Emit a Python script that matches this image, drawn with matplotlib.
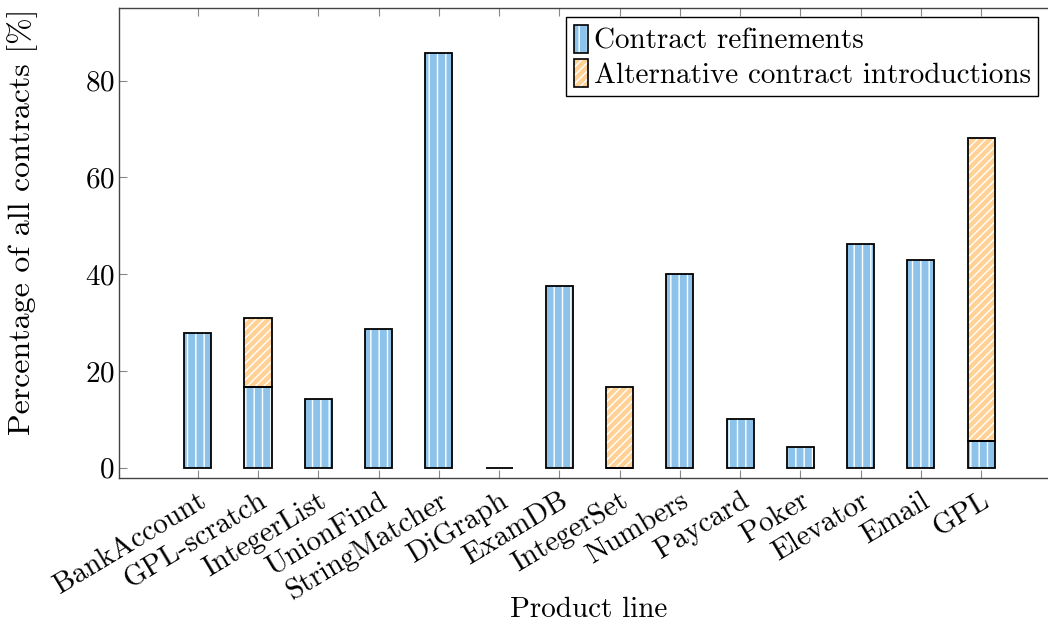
import matplotlib.pyplot as plt
import numpy as np

plt.rcParams['font.family'] = 'cmr10'
plt.rcParams['mathtext.fontset'] = 'cm'
plt.rcParams['axes.formatter.use_mathtext'] = True
plt.rcParams['hatch.linewidth'] = 1.0

# -------------------------------------------------
# Data
# -------------------------------------------------
products = ["BankAccount", "GPL-scratch", "IntegerList", "UnionFind",
            "StringMatcher", "DiGraph", "ExamDB", "IntegerSet", "Numbers",
            "Paycard", "Poker", "Elevator", "Email", "GPL"]
refinements = [27.8, 16.7, 14.3, 28.6, 85.7, 0.0, 37.5, 0.0, 40.0,
               10.0, 4.2, 46.2, 42.9, 5.5]
alternatives = [0.0, 14.3, 0.0, 0.0, 0.0, 0.0, 0.0, 16.7, 0.0,
                0.0, 0.0, 0.0, 0.0, 62.6]

blue = "#8dc3ea"
orange = "#ffd194"

x = np.arange(len(products))
width = 0.45

fig, ax = plt.subplots(figsize=(10.48, 6.23), dpi=100)

# fill + white hatch, then black outline on top
ax.bar(x, refinements, width, color=blue, edgecolor="white",
       hatch="||", linewidth=0)
ax.bar(x, alternatives, width, bottom=refinements, color=orange,
       edgecolor="white", hatch="////", linewidth=0)
ax.bar(x, refinements, width, facecolor="none", edgecolor="black",
       linewidth=1.3)
alt_x = [i for i in x if alternatives[i] > 0]
ax.bar(alt_x, [alternatives[i] for i in alt_x], width,
       bottom=[refinements[i] for i in alt_x],
       facecolor="none", edgecolor="black", linewidth=1.3)

ax.set_xlim(-1.3, 14.26)
ax.set_ylim(-2.1, 95)
ax.set_yticks([0, 20, 40, 60, 80])
ax.set_xticks(x)
ax.set_xticklabels(products, rotation=31, ha="right",
                   rotation_mode="anchor")

ax.tick_params(direction="in", length=6, color="#888888",
               top=True, right=False, labelsize=21)
ax.tick_params(axis="x", pad=7)
for s in ax.spines.values():
    s.set_color("#444444")
    s.set_linewidth(1.0)
ax.spines["right"].set_visible(False)

ax.set_xlabel("Product line", fontsize=21)
ax.set_ylabel("Percentage of all contracts [%]", fontsize=23)
ax.xaxis.set_label_coords(0.5, -0.254)
ax.yaxis.set_label_coords(-0.087, 0.545)

# legend with overlaid hatch + outline handles
h_blue = (plt.Rectangle((0, 0), 1, 1, facecolor=blue, edgecolor="white",
                        hatch="||", linewidth=0),
          plt.Rectangle((0, 0), 1, 1, facecolor="none",
                        edgecolor="black", linewidth=1.2))
h_orange = (plt.Rectangle((0, 0), 1, 1, facecolor=orange, edgecolor="white",
                          hatch="////", linewidth=0),
            plt.Rectangle((0, 0), 1, 1, facecolor="none",
                          edgecolor="black", linewidth=1.2))
leg = ax.legend([h_blue, h_orange],
                ["Contract refinements", "Alternative contract introductions"],
                loc="upper right", bbox_to_anchor=(0.98, 0.98),
                fontsize=21, frameon=True, fancybox=False,
                edgecolor="black", framealpha=1, handlelength=0.5,
                handleheight=1.1, handletextpad=0.2, borderpad=0.25,
                labelspacing=0.15, borderaxespad=0)
leg.get_frame().set_linewidth(1.0)

plt.subplots_adjust(left=0.114, right=1.0086, top=0.987, bottom=0.233)

plt.savefig("out.png", dpi=100)
